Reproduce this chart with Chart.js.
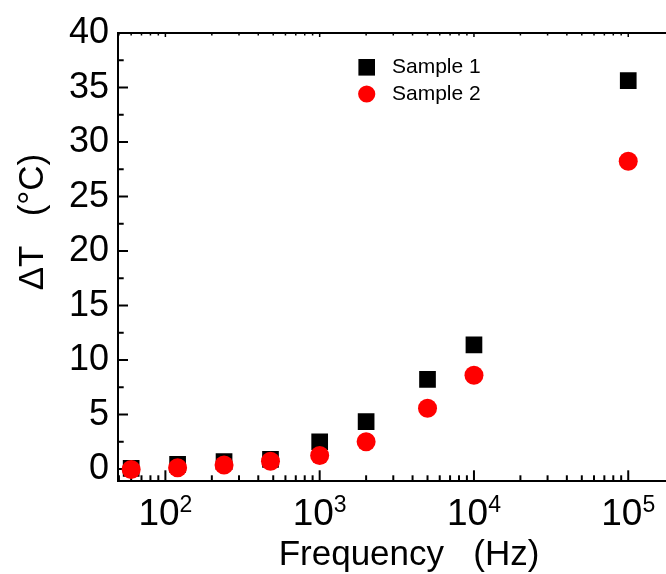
<!DOCTYPE html>
<html><head><meta charset="utf-8">
<script src="https://cdn.jsdelivr.net/npm/chart.js@4"></script>
<style>html,body{margin:0;padding:0;background:#fff;overflow:hidden;width:666px;height:574px}canvas{display:block}</style>
</head><body>
<canvas id="c" width="678" height="574"></canvas>
<script>
// ---- data ----
const frequencies = [60, 120, 240, 480, 1000, 2000, 5000, 10000, 100000];
const sample1 = [0.05, 0.43, 0.68, 0.89, 2.5, 4.35, 8.23, 11.38, 35.63];
const sample2 = [-0.05, 0.11, 0.37, 0.72, 1.24, 2.5, 5.58, 8.6, 28.24];
const seriesLabels = ['Sample 1', 'Sample 2'];
const yTickValues = [0, 5, 10, 15, 20, 25, 30, 35, 40];
const yTickLabels = ['0', '5', '10', '15', '20', '25', '30', '35', '40'];
const xTickExponents = [2, 3, 4, 5];
const xTitle = 'Frequency   (Hz)';
const yTitle = 'ΔT   (°C)';

const FONT = '"Liberation Sans", Arial, sans-serif';
const NARROW = '"Liberation Sans Narrow", "Liberation Sans", Arial, sans-serif';

const decorPlugin = {
  id: 'decor',
  beforeDatasetsDraw(chart) {
    const ctx = chart.ctx, a = chart.chartArea;
    const xs = chart.scales.x, ys = chart.scales.y;
    ctx.save();
    ctx.strokeStyle = '#000';
    ctx.lineWidth = 2;
    // top frame line
    ctx.beginPath(); ctx.moveTo(a.left, a.top); ctx.lineTo(a.right, a.top); ctx.stroke();
    // y ticks (inside)
    for (let v = 0; v <= 40; v += 2.5) {
      const py = ys.getPixelForValue(v);
      const major = (v % 5 === 0);
      ctx.beginPath(); ctx.moveTo(a.left, py); ctx.lineTo(a.left + (major ? 10 : 5.7), py); ctx.stroke();
    }
    // x ticks (inside, bottom and top)
    for (let e = 1; e <= 5; e++) {
      for (let m = 1; m <= 9; m++) {
        const f = m * Math.pow(10, e);
        if (f < xs.min || f > xs.max) continue;
        const px = xs.getPixelForValue(f);
        const major = (m === 1);
        ctx.beginPath(); ctx.moveTo(px, a.bottom); ctx.lineTo(px, a.bottom - (major ? 10.7 : 5.7)); ctx.stroke();
        ctx.lineWidth = 1.5;
        ctx.beginPath(); ctx.moveTo(px, a.top); ctx.lineTo(px, a.top + (major ? 4 : 2.5)); ctx.stroke();
        ctx.lineWidth = 2;
      }
    }
    ctx.restore();
  },
  afterDraw(chart) {
    const ctx = chart.ctx;
    const xs = chart.scales.x, ys = chart.scales.y;
    ctx.save();
    ctx.fillStyle = '#000';
    // y tick labels
    ctx.font = '36px ' + FONT;
    ctx.textAlign = 'right';
    ctx.textBaseline = 'alphabetic';
    yTickValues.forEach((v, i) => {
      ctx.fillText(yTickLabels[i], 109, ys.getPixelForValue(v) + 10);
    });
    // x tick labels 10^n
    ctx.textAlign = 'left';
    xTickExponents.forEach(e => {
      const px = xs.getPixelForValue(Math.pow(10, e));
      ctx.font = '37px ' + NARROW;
      const wb = ctx.measureText('10').width;
      ctx.font = '23px ' + FONT;
      const we = ctx.measureText(String(e)).width;
      const x0 = px - (wb + we) / 2;
      ctx.font = '37px ' + NARROW;
      ctx.fillText('10', x0, 525);
      ctx.font = '23px ' + FONT;
      ctx.fillText(String(e), x0 + wb, 512);
    });
    // x title
    ctx.font = '35px ' + FONT;
    ctx.textAlign = 'center';
    ctx.fillText(xTitle, 409, 565);
    // y title
    ctx.save();
    ctx.translate(43, 222);
    ctx.rotate(-Math.PI / 2);
    ctx.fillText(yTitle, 0, 0);
    ctx.restore();
    // legend
    const ds = chart.data.datasets;
    ctx.fillStyle = ds[0].backgroundColor;
    ctx.fillRect(366.7 - 8.3, 67.3 - 8.3, 16.6, 16.6);
    ctx.fillStyle = ds[1].backgroundColor;
    ctx.beginPath(); ctx.arc(366.7, 94, 8.6, 0, Math.PI * 2); ctx.fill();
    ctx.fillStyle = '#000';
    ctx.font = '21px ' + FONT;
    ctx.textAlign = 'left';
    ctx.textBaseline = 'middle';
    ctx.fillText(seriesLabels[0], 392, 67.5);
    ctx.fillText(seriesLabels[1], 392, 94);
    ctx.restore();
  }
};

new Chart(document.getElementById('c'), {
  type: 'scatter',
  data: {
    datasets: [
      { label: seriesLabels[0], data: frequencies.map((f, i) => ({ x: f, y: sample1[i] })),
        pointStyle: 'rect', pointRadius: 11.8, backgroundColor: '#000000', borderWidth: 0, order: 2 },
      { label: seriesLabels[1], data: frequencies.map((f, i) => ({ x: f, y: sample2[i] })),
        pointStyle: 'circle', pointRadius: 9.5, backgroundColor: '#ff0000', borderWidth: 0, order: 1 }
    ]
  },
  options: {
    responsive: false,
    animation: false,
    events: [],
    layout: { padding: { top: 33, left: 0, right: 0, bottom: 0 } },
    plugins: { legend: { display: false }, tooltip: { enabled: false } },
    scales: {
      x: {
        type: 'logarithmic', min: 49.3, max: 176200,
        grid: { display: false, drawTicks: false },
        border: { display: true, color: '#000', width: 2 },
        ticks: { display: false },
        afterFit(s) { s.height = 93; }
      },
      y: {
        type: 'linear', min: -1.1, max: 40,
        grid: { display: false, drawTicks: false },
        border: { display: true, color: '#000', width: 2 },
        ticks: { display: false },
        afterFit(s) { s.width = 118; }
      }
    }
  },
  plugins: [decorPlugin]
});
</script>
</body></html>
